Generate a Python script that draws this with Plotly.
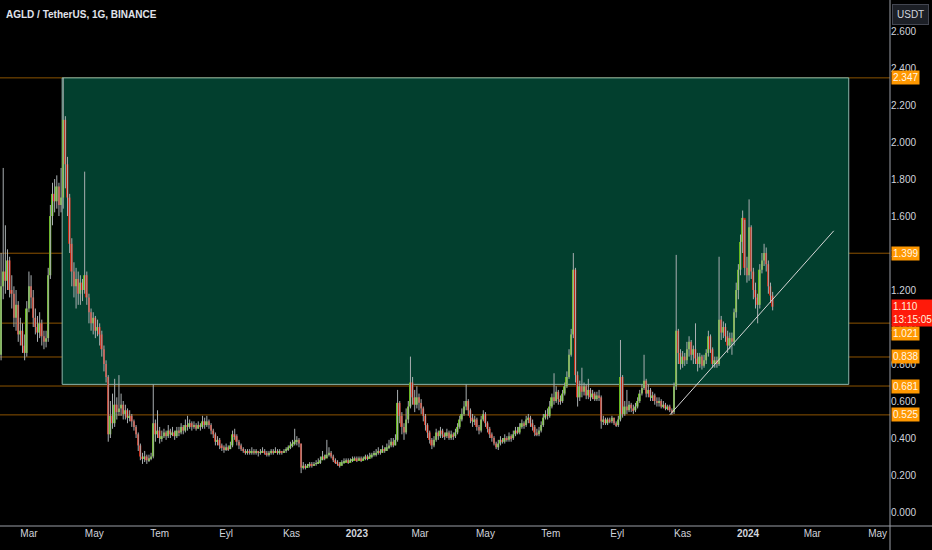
import pandas as pd
import plotly.graph_objects as go

# AGLD/USDT, 2-day candles (open = previous close)
first_open = 0.85
closes = [
    1.22, 1.30, 1.25, 1.36, 1.20, 1.18, 1.05, 1.12, 0.96, 0.98,
    0.90, 0.86, 1.10, 1.22, 1.16, 1.05, 1.00, 0.97, 1.02, 0.95,
    0.92, 0.94, 1.28, 1.60, 1.72, 1.68, 1.76, 1.66, 1.70, 2.12,
    1.88, 1.70, 1.45, 1.30, 1.22, 1.26, 1.18, 1.24, 1.20, 1.28,
    1.16, 1.08, 1.02, 1.05, 0.98, 1.00, 0.96, 0.88, 0.80, 0.73,
    0.42, 0.52, 0.48, 0.58, 0.54, 0.56, 0.58, 0.53, 0.55, 0.51,
    0.52, 0.49, 0.46, 0.42, 0.36, 0.30, 0.29, 0.30, 0.28, 0.29,
    0.30, 0.48, 0.42, 0.44, 0.40, 0.41, 0.43, 0.41, 0.44, 0.42,
    0.43, 0.41, 0.44, 0.43, 0.46, 0.44, 0.47, 0.46, 0.48, 0.46,
    0.47, 0.45, 0.47, 0.46, 0.49, 0.47, 0.49, 0.47, 0.44, 0.42,
    0.38, 0.39, 0.36, 0.35, 0.34, 0.35, 0.34, 0.36, 0.42, 0.41,
    0.38, 0.36, 0.34, 0.33, 0.32, 0.33, 0.32, 0.33, 0.32, 0.33,
    0.32, 0.32, 0.33, 0.32, 0.31, 0.32, 0.33, 0.32, 0.33, 0.32,
    0.33, 0.32, 0.33, 0.34, 0.35, 0.36, 0.37, 0.38, 0.39, 0.37,
    0.24, 0.25, 0.24, 0.25, 0.26, 0.25, 0.26, 0.26, 0.27, 0.28,
    0.30, 0.29, 0.31, 0.32, 0.30, 0.28, 0.27, 0.26, 0.25, 0.27,
    0.27, 0.28, 0.27, 0.28, 0.28, 0.29, 0.28, 0.29, 0.28, 0.29,
    0.30, 0.29, 0.30, 0.31, 0.31, 0.32, 0.33, 0.32, 0.34, 0.33,
    0.35, 0.36, 0.38, 0.36, 0.39, 0.59, 0.52, 0.46, 0.43, 0.50,
    0.57, 0.70, 0.62, 0.58, 0.62, 0.59, 0.56, 0.52, 0.47, 0.43,
    0.39, 0.36, 0.39, 0.43, 0.41, 0.44, 0.42, 0.41, 0.43, 0.40,
    0.42, 0.41, 0.43, 0.46, 0.50, 0.53, 0.57, 0.60, 0.55, 0.51,
    0.49, 0.50, 0.46, 0.44, 0.50, 0.53, 0.48, 0.45, 0.42, 0.40,
    0.37, 0.35, 0.37, 0.39, 0.38, 0.40, 0.39, 0.41, 0.40, 0.42,
    0.44, 0.43, 0.46, 0.48, 0.47, 0.50, 0.51, 0.48, 0.46, 0.43,
    0.42, 0.44, 0.47, 0.51, 0.53, 0.52, 0.57, 0.62, 0.60, 0.65,
    0.61, 0.60, 0.64, 0.68, 0.73, 0.85, 0.96, 1.31, 0.74, 0.62,
    0.68, 0.65, 0.68, 0.63, 0.66, 0.62, 0.64, 0.61, 0.63, 0.62,
    0.49, 0.50, 0.48, 0.50, 0.49, 0.51, 0.48, 0.47, 0.50, 0.73,
    0.53, 0.57, 0.55, 0.58, 0.56, 0.55, 0.57, 0.60, 0.64, 0.67,
    0.71, 0.64, 0.66, 0.62, 0.63, 0.60, 0.59, 0.60, 0.57, 0.58,
    0.56, 0.57, 0.55, 0.54, 0.68, 0.98, 0.86, 0.80, 0.84, 0.82,
    0.88, 0.92, 0.85, 0.88, 0.83, 0.80, 0.84, 0.79, 0.82, 0.86,
    0.95, 0.88, 0.80, 0.82, 0.80, 1.04, 0.97, 1.00, 0.95, 0.90,
    0.94, 0.92, 1.08, 1.20, 1.31, 1.46, 1.59, 1.32, 1.28, 1.54,
    1.30, 1.20, 1.16, 1.12, 1.31, 1.36, 1.40, 1.34, 1.22, 1.17, 1.11,
]
highs = [
    1.40, 1.86, 1.55, 1.42, 1.38, 1.28, 1.22, 1.20, 1.14, 1.05,
    1.02, 0.96, 1.14, 1.30, 1.28, 1.20, 1.10, 1.06, 1.08, 1.04,
    0.98, 0.98, 1.32, 1.66, 1.78, 1.80, 1.82, 1.78, 1.86, 2.347,
    2.14, 1.92, 1.72, 1.48, 1.35, 1.32, 1.30, 1.28, 1.26, 1.84,
    1.30, 1.18, 1.10, 1.08, 1.06, 1.04, 1.02, 0.98, 0.90, 0.82,
    0.74, 0.60, 0.64, 0.72, 0.62, 0.74, 0.64, 0.60, 0.58, 0.56,
    0.55, 0.53, 0.50, 0.47, 0.43, 0.37, 0.32, 0.33, 0.31, 0.31,
    0.32, 0.69, 0.50, 0.55, 0.46, 0.44, 0.45, 0.44, 0.47, 0.45,
    0.46, 0.44, 0.46, 0.46, 0.48, 0.47, 0.50, 0.52, 0.50, 0.49,
    0.49, 0.48, 0.49, 0.48, 0.52, 0.51, 0.52, 0.50, 0.48, 0.45,
    0.43, 0.41, 0.40, 0.37, 0.36, 0.37, 0.36, 0.38, 0.44, 0.45,
    0.42, 0.39, 0.37, 0.35, 0.34, 0.34, 0.34, 0.35, 0.34, 0.34,
    0.33, 0.34, 0.35, 0.34, 0.33, 0.33, 0.34, 0.34, 0.35, 0.34,
    0.34, 0.33, 0.34, 0.35, 0.36, 0.38, 0.39, 0.45, 0.41, 0.40,
    0.37, 0.27, 0.26, 0.26, 0.27, 0.27, 0.27, 0.28, 0.29, 0.30,
    0.33, 0.31, 0.39, 0.35, 0.33, 0.31, 0.29, 0.28, 0.27, 0.28,
    0.29, 0.29, 0.29, 0.29, 0.30, 0.30, 0.30, 0.30, 0.30, 0.30,
    0.31, 0.31, 0.32, 0.32, 0.33, 0.34, 0.35, 0.34, 0.36, 0.35,
    0.37, 0.39, 0.40, 0.40, 0.42, 0.66, 0.60, 0.54, 0.48, 0.56,
    0.60, 0.84, 0.73, 0.66, 0.68, 0.64, 0.61, 0.57, 0.53, 0.48,
    0.44, 0.40, 0.41, 0.45, 0.44, 0.46, 0.45, 0.43, 0.45, 0.44,
    0.44, 0.43, 0.45, 0.48, 0.52, 0.56, 0.60, 0.69, 0.61, 0.56,
    0.53, 0.52, 0.51, 0.47, 0.52, 0.55, 0.54, 0.49, 0.46, 0.43,
    0.41, 0.38, 0.39, 0.41, 0.40, 0.42, 0.41, 0.43, 0.42, 0.44,
    0.46, 0.46, 0.48, 0.50, 0.49, 0.52, 0.53, 0.52, 0.50, 0.47,
    0.45, 0.46, 0.49, 0.53, 0.55, 0.56, 0.60, 0.64, 0.75, 0.68,
    0.66, 0.63, 0.66, 0.70, 0.76, 0.88, 0.99, 1.40, 1.32, 0.76,
    0.71, 0.78, 0.70, 0.69, 0.72, 0.67, 0.66, 0.65, 0.65, 0.66,
    0.63, 0.52, 0.51, 0.51, 0.51, 0.52, 0.51, 0.49, 0.52, 0.93,
    0.74, 0.60, 0.66, 0.60, 0.59, 0.58, 0.59, 0.62, 0.66, 0.69,
    0.85, 0.72, 0.69, 0.67, 0.65, 0.64, 0.62, 0.62, 0.61, 0.60,
    0.59, 0.58, 0.58, 0.56, 0.70, 1.39, 0.99, 0.88, 0.87, 0.86,
    0.92, 0.95, 0.93, 0.90, 1.02, 0.86, 0.86, 0.85, 0.85, 0.88,
    0.98, 0.96, 0.89, 0.84, 0.84, 1.38, 1.06, 1.03, 1.02, 0.98,
    0.97, 0.97, 1.10, 1.24, 1.34, 1.50, 1.63, 1.58, 1.38, 1.69,
    1.55, 1.32, 1.24, 1.18, 1.34, 1.40, 1.45, 1.43, 1.36, 1.24, 1.19,
]
lows = [
    0.82, 1.15, 1.18, 1.20, 1.16, 1.10, 1.00, 0.98, 0.92, 0.90,
    0.86, 0.82, 0.84, 1.08, 1.10, 1.00, 0.96, 0.92, 0.94, 0.90,
    0.88, 0.89, 0.92, 1.26, 1.55, 1.62, 1.64, 1.60, 1.62, 1.64,
    1.75, 1.60, 1.40, 1.22, 1.16, 1.10, 1.12, 1.12, 1.14, 1.18,
    1.12, 1.02, 0.98, 0.96, 0.94, 0.95, 0.90, 0.84, 0.76, 0.70,
    0.38, 0.40, 0.45, 0.46, 0.50, 0.52, 0.52, 0.50, 0.50, 0.48,
    0.49, 0.46, 0.44, 0.40, 0.33, 0.28, 0.26, 0.27, 0.26, 0.27,
    0.28, 0.29, 0.38, 0.40, 0.37, 0.38, 0.40, 0.39, 0.40, 0.40,
    0.41, 0.39, 0.40, 0.41, 0.42, 0.42, 0.43, 0.44, 0.45, 0.44,
    0.45, 0.44, 0.45, 0.44, 0.45, 0.45, 0.46, 0.45, 0.42, 0.40,
    0.36, 0.36, 0.34, 0.33, 0.32, 0.33, 0.33, 0.34, 0.35, 0.39,
    0.36, 0.34, 0.33, 0.32, 0.31, 0.31, 0.31, 0.31, 0.31, 0.31,
    0.30, 0.31, 0.32, 0.31, 0.30, 0.30, 0.31, 0.31, 0.32, 0.31,
    0.31, 0.31, 0.32, 0.32, 0.33, 0.34, 0.35, 0.36, 0.36, 0.35,
    0.21, 0.23, 0.23, 0.24, 0.24, 0.24, 0.25, 0.25, 0.26, 0.26,
    0.28, 0.28, 0.29, 0.30, 0.29, 0.27, 0.26, 0.25, 0.24, 0.25,
    0.26, 0.27, 0.26, 0.27, 0.27, 0.28, 0.27, 0.28, 0.27, 0.28,
    0.28, 0.28, 0.29, 0.29, 0.30, 0.30, 0.31, 0.31, 0.32, 0.32,
    0.33, 0.34, 0.35, 0.35, 0.36, 0.38, 0.48, 0.42, 0.39, 0.42,
    0.48, 0.56, 0.58, 0.54, 0.56, 0.55, 0.53, 0.49, 0.44, 0.40,
    0.37, 0.34, 0.35, 0.38, 0.39, 0.40, 0.40, 0.39, 0.40, 0.39,
    0.39, 0.39, 0.40, 0.42, 0.45, 0.49, 0.52, 0.55, 0.52, 0.48,
    0.46, 0.47, 0.44, 0.42, 0.43, 0.49, 0.46, 0.43, 0.40, 0.38,
    0.36, 0.34, 0.335, 0.36, 0.37, 0.37, 0.38, 0.38, 0.38, 0.39,
    0.41, 0.42, 0.42, 0.45, 0.45, 0.46, 0.48, 0.46, 0.44, 0.41,
    0.41, 0.41, 0.43, 0.46, 0.50, 0.50, 0.51, 0.56, 0.58, 0.59,
    0.58, 0.58, 0.59, 0.63, 0.67, 0.72, 0.84, 0.94, 0.70, 0.57,
    0.60, 0.62, 0.63, 0.61, 0.61, 0.60, 0.61, 0.60, 0.60, 0.60,
    0.45, 0.47, 0.47, 0.47, 0.48, 0.48, 0.47, 0.46, 0.46, 0.49,
    0.51, 0.52, 0.53, 0.54, 0.54, 0.53, 0.54, 0.56, 0.59, 0.63,
    0.66, 0.62, 0.62, 0.60, 0.60, 0.58, 0.57, 0.57, 0.56, 0.56,
    0.55, 0.55, 0.54, 0.525, 0.53, 0.66, 0.80, 0.77, 0.78, 0.79,
    0.80, 0.84, 0.82, 0.80, 0.80, 0.76, 0.78, 0.77, 0.78, 0.80,
    0.84, 0.86, 0.78, 0.78, 0.78, 0.79, 0.93, 0.94, 0.92, 0.86,
    0.88, 0.85, 0.90, 1.05, 1.15, 1.28, 1.40, 1.28, 1.24, 1.25,
    1.26, 1.15, 1.10, 1.02, 1.10, 1.29, 1.33, 1.30, 1.18, 1.13, 1.09,
]

# drawings on the chart
levels = [2.347, 1.399, 1.021, 0.838, 0.681, 0.525]
last_price = 1.110
countdown = "13:15:05"
box_x = ["2022-04-01", "2024-04-04"]
box_y = [0.69, 2.347]
trend_x = ["2023-10-20", "2024-03-21"]
trend_y = [0.525, 1.52]

tick_dates = ["2022-03-01", "2022-05-01", "2022-07-01", "2022-09-01", "2022-11-01",
              "2023-01-01", "2023-03-01", "2023-05-01", "2023-07-01", "2023-09-01",
              "2023-11-01", "2024-01-01", "2024-03-01", "2024-05-01"]
tick_labels = ["Mar", "May", "Tem", "Eyl", "Kas", "<b>2023</b>", "Mar", "May", "Tem", "Eyl",
               "Kas", "<b>2024</b>", "Mar", "May"]
price_ticks = [0.0, 0.2, 0.4, 0.6, 0.8, 1.0, 1.2, 1.4, 1.6, 1.8, 2.0, 2.2, 2.4, 2.6]

TXT = "#d1d4dc"
GREEN = "#66b81a"
RED = "#c8240f"
WICK = "#a9afb1"
ORANGE = "#ff9800"
FONT = "Liberation Sans, Arial, sans-serif"

dates = pd.date_range("2022-02-03", periods=len(closes), freq="2D")
opens = [first_open] + closes[:-1]

wx, wy = [], []
for d, h, l in zip(dates, highs, lows):
    wx += [d, d, None]
    wy += [l, h, None]

base = [min(o, c) for o, c in zip(opens, closes)]
body = [max(abs(c - o), 0.004) for o, c in zip(opens, closes)]
colors = [GREEN if c >= o else RED for o, c in zip(opens, closes)]

fig = go.Figure()
fig.add_trace(go.Scatter(x=wx, y=wy, mode="lines", line=dict(color=WICK, width=1),
                         hoverinfo="skip"))
fig.add_trace(go.Bar(x=dates, y=body, base=base, marker=dict(color=colors, line_width=0),
                     width=1.7 * 86400000, hoverinfo="skip"))

shapes = []
shapes.append(dict(type="rect", xref="x", yref="y", x0=box_x[0], x1=box_x[1],
                   y0=box_y[0], y1=box_y[1], fillcolor="#023f2e",
                   line=dict(color="#8fb8ad", width=1), layer="below"))
for v in levels:
    shapes.append(dict(type="line", xref="paper", yref="y", x0=0, x1=1, y0=v, y1=v,
                       line=dict(color="rgba(255,152,0,0.55)", width=1), layer="below"))
shapes.append(dict(type="line", xref="x", yref="y", x0=trend_x[0], x1=trend_x[1],
                   y0=trend_y[0], y1=trend_y[1], line=dict(color="#d6d6d6", width=1)))
# axis borders
shapes.append(dict(type="line", xref="paper", yref="paper", x0=1, x1=1, y0=-0.05, y1=1,
                   line=dict(color="#9a9ea6", width=1)))
shapes.append(dict(type="line", xref="paper", yref="paper", x0=0, x1=1.05, y0=0, y1=0,
                   line=dict(color="#9a9ea6", width=1)))

ann = []
ann.append(dict(text="<b>AGLD / TetherUS, 1G, BINANCE</b>", xref="paper", yref="paper",
                x=0.005, y=0.973, xanchor="left", yanchor="middle", showarrow=False,
                font=dict(size=10, color="#e0e3eb")))
ann.append(dict(text="USDT", xref="paper", yref="paper", x=1.023, y=0.973,
                xanchor="center", yanchor="middle", showarrow=False,
                bgcolor="#1c1f26", bordercolor="#434651", borderwidth=1, borderpad=4,
                font=dict(size=10, color=TXT)))
for v in levels:
    # TradingView pushes a level tag down when it collides with the last-price tag
    shift = -10 if abs(v - last_price) < 0.1 else 0
    ann.append(dict(text=f"{v:.3f}", xref="paper", yref="y", x=1, y=v, xanchor="left",
                    yanchor="middle", xshift=1, yshift=shift, showarrow=False,
                    bgcolor=ORANGE, borderpad=1, font=dict(size=10, color="#fff6e6")))
ann.append(dict(text=f"{last_price:.3f}<br>{countdown}", xref="paper", yref="y", x=1,
                y=1.076, xanchor="left", yanchor="middle", xshift=1, showarrow=False,
                bgcolor="#ff1a0a", borderpad=1, align="left",
                font=dict(size=10, color="#fff0dc")))

fig.update_layout(
    width=932, height=550,
    margin=dict(l=0, r=42, t=0, b=24),
    paper_bgcolor="#000000", plot_bgcolor="#000000",
    showlegend=False, hovermode=False,
    font=dict(family=FONT, color=TXT),
    shapes=shapes, annotations=ann,
    xaxis=dict(type="date", range=["2022-02-02", "2024-05-12 12:00"],
               tickvals=tick_dates, ticktext=tick_labels, showgrid=False,
               zeroline=False, showline=False, ticks="", tickfont=dict(size=10, color=TXT)),
    yaxis=dict(range=[-0.0757, 2.768], side="right", tickvals=price_ticks,
               tickformat=".3f", showgrid=False, zeroline=False, showline=False,
               ticks="", tickfont=dict(size=10, color=TXT)),
)

# page has a default 8px body margin, drop it so the chart sits at 0,0
fig.write_html("out.html", config={"displayModeBar": False},
               post_script="document.body.style.margin='0';document.body.style.overflow='hidden';")
